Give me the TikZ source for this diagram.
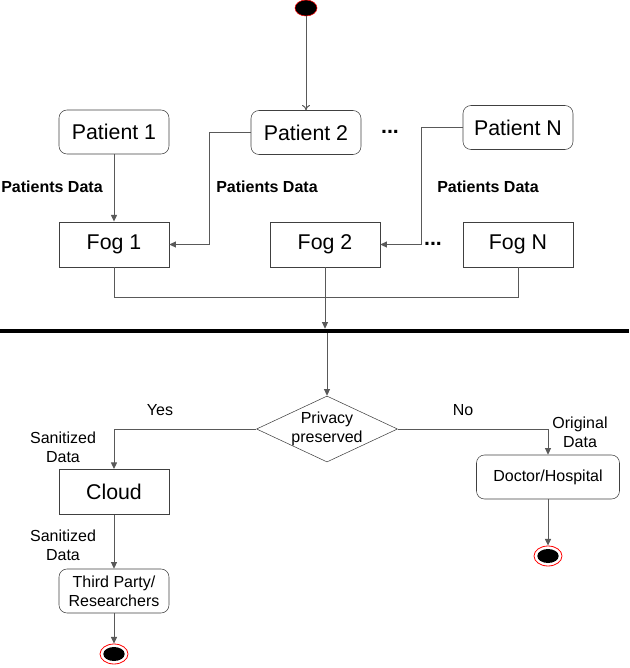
\documentclass[tikz,border=0pt]{standalone}
\usepackage{fontspec}
\setmainfont{Liberation Sans}
\usetikzlibrary{shapes.geometric,arrows.meta}

\begin{document}
\begin{tikzpicture}[x=0.75pt,y=0.75pt,yscale=-1,xscale=1,
  rbox/.style={draw=black!75, rounded corners=6pt, minimum width=82.5pt, minimum height=33pt, inner sep=0pt},
  sbox/.style={draw=black!75, minimum width=82.5pt, minimum height=34pt, inner sep=0pt},
  big/.style={font=\fontsize{16}{19}\selectfont},
  small/.style={font=\fontsize{12}{14.5}\selectfont, align=center},
  flow/.style={draw=black!65, line width=0.75pt, -{Triangle[length=5pt,width=4.5pt]}},
  link/.style={draw=black!65, line width=0.75pt},
  startdot/.style={ellipse, draw=red, fill=black, minimum width=16.5pt, minimum height=12pt, inner sep=0pt},
  endring/.style={ellipse, draw=red, fill=white, line width=0.6pt, minimum width=21pt, minimum height=15pt, inner sep=0pt},
  enddot/.style={ellipse, fill=black, minimum width=16pt, minimum height=10.5pt, inner sep=0pt},
]
\useasboundingbox (0,0) rectangle (629,668);

%Start
\node [startdot] (start) at (306,8) {};

%Patients
\node [rbox, big] (p1) at (114,132) {Patient 1};
\node [rbox, big] (p2) at (306,132.5) {Patient 2};
\node [rbox, big] (pn) at (518,127.5) {Patient N};
\node [font=\bfseries\fontsize{16}{19}\selectfont] (pdots) at (390,132) {...};

%Fogs
\node [sbox, big] (f1) at (114,244.5) {Fog 1};
\node [sbox, big] (f2) at (325,244.5) {Fog 2};
\node [sbox, big] (fn) at (518,244.5) {Fog N};
\node [font=\bfseries\fontsize{16}{19}\selectfont] (fdots) at (433,244) {...};

%Labels
\node [small, font=\bfseries\fontsize{12}{14.5}\selectfont] (lab1) at (52,187) {Patients Data};
\node [small, font=\bfseries\fontsize{12}{14.5}\selectfont] (lab2) at (267,187) {Patients Data};
\node [small, font=\bfseries\fontsize{12}{14.5}\selectfont] (lab3) at (488,187) {Patients Data};

%Bar
\node [fill=black, minimum width=471.75pt, minimum height=3pt, inner sep=0pt] (bar) at (314.5,331) {};

%Decision
\node [diamond, draw=black!75, minimum width=105.75pt, minimum height=49.5pt, inner sep=0pt,
       label={[small]center:Privacy\\preserved}] (priv) at (327,429) {};

%Outputs
\node [sbox, big] (cloud) at (114,492) {Cloud};
\node [rbox, small] (tp) at (114,591) {Third Party/\\Researchers};
\node [rbox, small, minimum width=107.25pt] (doc) at (548,477) {Doctor/Hospital};

%Ends
\node [endring] (end1) at (114,654) {};
\node [enddot] (end1dot) at (end1) {};
\node [endring] (end2) at (548,556) {};
\node [enddot] (end2dot) at (end2) {};

%Branch labels
\node [small] (yes) at (160,410) {Yes};
\node [small] (no) at (463,410) {No};
\node [small] (san1) at (63,447) {Sanitized\\Data};
\node [small] (san2) at (63,545) {Sanitized\\Data};
\node [small] (orig) at (580,432) {Original\\Data};

%Connectors
\draw [link, -{To[length=4pt,width=6pt]}] (start) -- (p2);
\draw [flow] (p1) -- (f1);
\draw [flow] (p2.west) -- ++(-41,0) |- (f1.east);
\draw [flow] (pn.west) -- ++(-41,0) |- (f2.east);
\draw [link] (f1.south) -- ++(0,30) -| (fn.south);
\draw [flow] (f2.south) -- (f2.south |- bar.north);
\draw [flow] (priv.north |- bar.south) -- (priv.north);
\draw [flow] (priv.west) -| (cloud.north);
\draw [flow] (priv.east) -| (doc.north);
\draw [flow] (cloud) -- (tp);
\draw [flow] (tp) -- (end1);
\draw [flow] (doc) -- (end2);

\end{tikzpicture}
\end{document}
